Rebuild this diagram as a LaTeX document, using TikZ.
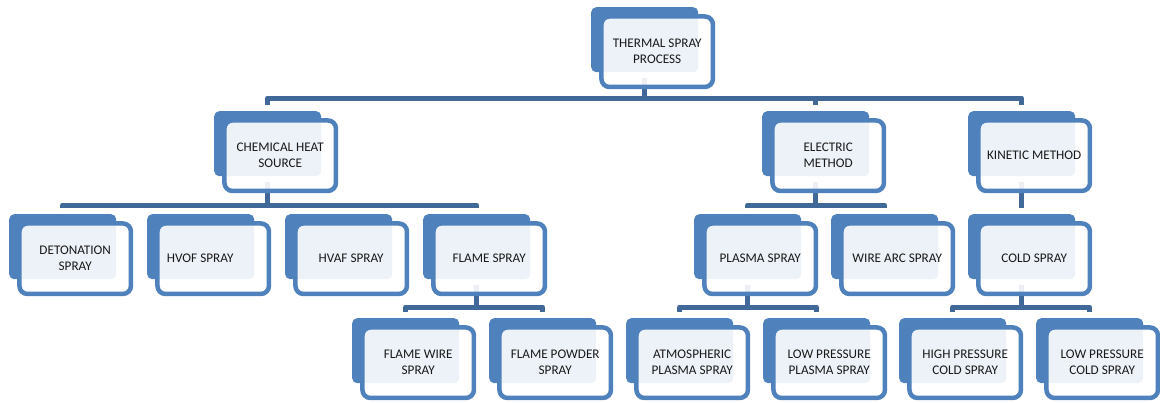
\documentclass[tikz,border=0pt]{standalone}
\usepackage{fontspec}
\setmainfont{Carlito}
\usetikzlibrary{backgrounds}
\definecolor{accent}{RGB}{79,129,189}
\definecolor{connc}{RGB}{64,104,153}
\definecolor{txt}{RGB}{25,25,25}
\tikzset{
 backbox/.style={rectangle, rounded corners=5pt, fill=accent, minimum width=107pt, minimum height=65pt, inner sep=0pt, anchor=north west},
 frontbox/.style={rectangle, rounded corners=8pt, draw=accent, line width=4.5pt, fill=white, fill opacity=0.9, text opacity=1, minimum width=111.5pt, minimum height=70.5pt, inner sep=0pt, align=center, text=txt, font=\fontsize{13.2}{16}\selectfont},
 conn/.style={draw=connc, line width=5pt, line join=round}
}
\newcommand\hnode[4]{%
 \node[backbox] (#1-b) at (#2,#3) {};
 \node[frontbox] (#1) at ([shift={(12.5pt,-12pt)}]#1-b.center) {#4};
}
\begin{document}
\begin{tikzpicture}[x=1pt,y=-1pt]
\useasboundingbox (0,0) rectangle (1160,402);
\hnode{top}{591}{7}{THERMAL SPRAY\\PROCESS}
\hnode{chem}{214}{111}{CHEMICAL HEAT\\SOURCE}
\hnode{elec}{762}{111}{ELECTRIC\\METHOD}
\hnode{kin}{968}{111}{KINETIC METHOD}
\hnode{det}{9}{214}{DETONATION\\SPRAY}
\hnode{hvof}{147}{214}{HVOF SPRAY\hspace*{26pt}}
\hnode{hvaf}{285}{214}{HVAF SPRAY}
\hnode{flame}{423}{214}{FLAME SPRAY}
\hnode{plasma}{694}{214}{PLASMA SPRAY}
\hnode{wire}{831}{214}{WIRE ARC SPRAY}
\hnode{cold}{968}{214}{COLD SPRAY}
\hnode{fwire}{352}{318}{FLAME WIRE\\SPRAY}
\hnode{fpow}{489}{318}{FLAME POWDER\\SPRAY}
\hnode{aps}{626}{318}{ATMOSPHERIC\\PLASMA SPRAY}
\hnode{lpps}{763}{318}{LOW PRESSURE\\PLASMA SPRAY}
\hnode{hpcs}{899}{318}{HIGH PRESSURE\\COLD SPRAY}
\hnode{lpcs}{1036}{318}{LOW PRESSURE\\COLD SPRAY}
\coordinate (barA) at (0,98);
\coordinate (barB) at (0,205);
\coordinate (barD) at (0,307);
\begin{scope}[on background layer]
 % level 0 -> 1
 \draw[conn] ([yshift=-6pt]top-b.south) -- (top-b.south |- barA);
 \draw[conn] ([yshift=6pt]chem-b.north) -- (chem-b.north |- barA) -- (kin-b.north |- barA) -- ([yshift=6pt]kin-b.north);
 \draw[conn] (elec-b.north |- barA) -- ([yshift=6pt]elec-b.north);
 % chemical
 \draw[conn] ([yshift=-6pt]chem-b.south) -- (chem-b.south |- barB);
 \draw[conn] ([yshift=6pt]det-b.north) -- (det-b.north |- barB) -- (flame-b.north |- barB) -- ([yshift=6pt]flame-b.north);
 \draw[conn] (hvof-b.north |- barB) -- ([yshift=6pt]hvof-b.north);
 \draw[conn] (hvaf-b.north |- barB) -- ([yshift=6pt]hvaf-b.north);
 % electric
 \draw[conn] ([yshift=-6pt]elec-b.south) -- (elec-b.south |- barB);
 \draw[conn] ([yshift=6pt]plasma-b.north) -- (plasma-b.north |- barB) -- (wire-b.north |- barB) -- ([yshift=6pt]wire-b.north);
 % kinetic
 \draw[conn] ([yshift=-6pt]kin-b.south) -- ([yshift=6pt]cold-b.north);
 % flame
 \draw[conn] ([yshift=-6pt]flame-b.south) -- (flame-b.south |- barD);
 \draw[conn] ([yshift=6pt]fwire-b.north) -- (fwire-b.north |- barD) -- (fpow-b.north |- barD) -- ([yshift=6pt]fpow-b.north);
 % plasma
 \draw[conn] ([yshift=-6pt]plasma-b.south) -- (plasma-b.south |- barD);
 \draw[conn] ([yshift=6pt]aps-b.north) -- (aps-b.north |- barD) -- (lpps-b.north |- barD) -- ([yshift=6pt]lpps-b.north);
 % cold
 \draw[conn] ([yshift=-6pt]cold-b.south) -- (cold-b.south |- barD);
 \draw[conn] ([yshift=6pt]hpcs-b.north) -- (hpcs-b.north |- barD) -- (lpcs-b.north |- barD) -- ([yshift=6pt]lpcs-b.north);
\end{scope}
\end{tikzpicture}
\end{document}
